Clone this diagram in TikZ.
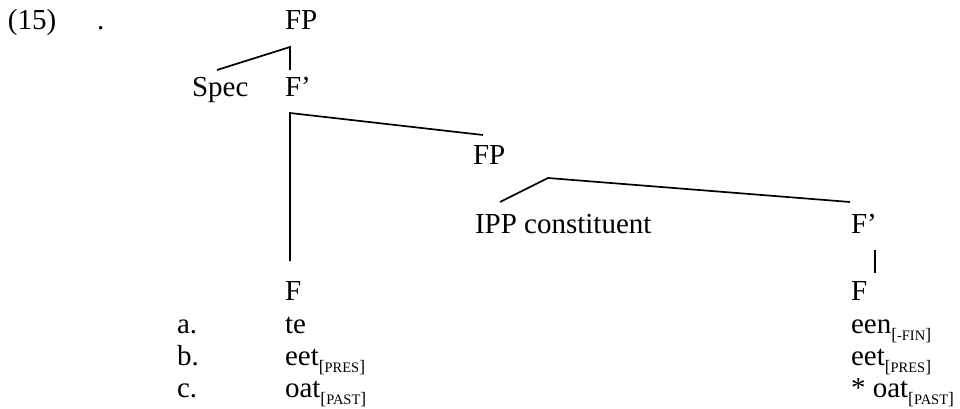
\documentclass[tikz,border=0pt]{standalone}
\usepackage{fontspec}
\setmainfont{Liberation Serif}
\newcommand{\featsub}[1]{\raisebox{-7.5pt}{\fontsize{17.5}{20}\selectfont[\fontsize{14.5}{17}\selectfont #1\fontsize{17.5}{20}\selectfont]}}
\begin{document}
\begin{tikzpicture}[x=1pt,y=-1pt,
  lbl/.style={anchor=base west,inner sep=0pt,outer sep=0pt,font=\fontsize{29}{34}\selectfont},
  branch/.style={line width=1.7pt,line cap=butt,line join=miter}]
\useasboundingbox[fill=white] (0,0) rectangle (960,409);
% labels
\node[lbl] (ex) at (8,30) {(15)};
\node[lbl] (dot) at (97,30) {.};
\node[lbl] (fp1) at (285,30) {FP};
\node[lbl] (spec) at (192,96) {Spec};
\node[lbl] (fbar1) at (285,96) {F’};
\node[lbl] (fp2) at (473,164) {FP};
\node[lbl] (ipp) at (475,233) {IPP constituent};
\node[lbl] (fbar2) at (851,233) {F’};
\node[lbl] (f1) at (285,300) {F};
\node[lbl] (f2) at (851,300) {F};
\node[lbl] (la) at (177,333) {a.};
\node[lbl] (lb) at (177,365) {b.};
\node[lbl] (lc) at (177,397) {c.};
\node[lbl] (ta) at (285,333) {te};
\node[lbl] (tb) at (285,365) {eet\featsub{PRES}};
\node[lbl] (tc) at (285,397) {oat\featsub{PAST}};
\node[lbl] (ra) at (851,333) {een\featsub{-FIN}};
\node[lbl] (rb) at (851,365) {eet\featsub{PRES}};
\node[lbl] (rc) at (851,397) {* oat\featsub{PAST}};
% branch points
\coordinate (fp1r) at (290,47);
\coordinate (spect) at (217,70);
\coordinate (fbar1t) at (290,70);
\coordinate (fbar1r) at (290,113);
\coordinate (f1t) at (290,261);
\coordinate (fp2t) at (483,135);
\coordinate (fp2r) at (548,178);
\coordinate (ippt) at (500,202);
\coordinate (fbar2t) at (850,202);
\coordinate (fbar2r) at (875,250);
\coordinate (f2t) at (875,273);
% branches
\draw[branch] (spect) -- (fp1r) -- (fbar1t);
\draw[branch] (f1t) -- (fbar1r) -- (fp2t);
\draw[branch] (ippt) -- (fp2r) -- (fbar2t);
\draw[branch] (fbar2r) -- (f2t);
\end{tikzpicture}
\end{document}
